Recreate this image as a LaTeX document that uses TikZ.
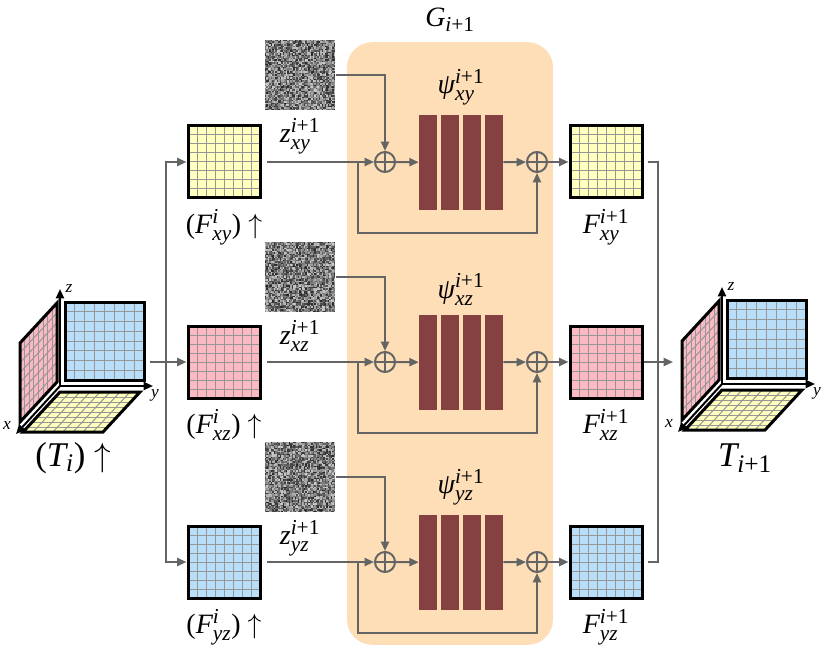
\documentclass[tikz,border=0pt]{standalone}
\usepackage{amsmath}
\usepackage{fontspec}
\setmainfont{Liberation Serif}
\usepackage{tikz}
\usetikzlibrary{positioning, calc}
\usetikzlibrary{arrows.meta}
\tikzset{>={Triangle[width=6pt,length=7pt]}}
\DeclareMathSizes{21}{21}{16}{12}
\DeclareMathSizes{26}{26}{19}{14}

\definecolor{planeyel}{RGB}{255,255,190}
\definecolor{planepink}{RGB}{250,185,195}
\definecolor{planeblue}{RGB}{185,222,250}
\definecolor{gridgray}{RGB}{150,150,150}
\definecolor{linegray}{RGB}{100,100,100}
\definecolor{peach}{RGB}{253,222,183}
\definecolor{convred}{RGB}{133,65,65}

\newcommand{\tx}[1]{\textit{#1}}
\newcommand{\ip}{\tx{i}\text{+1}}

% 8x8 grid inside a square plane node
\newcommand{\planegrid}{%
  \foreach \k in {1,...,7}{
    \draw[gridgray, line width=0.75pt] ([xshift=\k*6.75pt]path picture bounding box.south west) -- ++(0pt,54pt);
    \draw[gridgray, line width=0.75pt] ([yshift=\k*6.75pt]path picture bounding box.south west) -- ++(54pt,0pt);
  }}
% random gray pixels
\newcommand{\noisefill}{%
  \foreach \i in {0,...,46}{\foreach \j in {0,...,46}{
    \pgfmathsetmacro{\g}{int(20+65*rnd)}
    \fill[black!\g] ([xshift=\i*1.125pt, yshift=\j*1.125pt]path picture bounding box.south west) rectangle ++(1.125pt,1.125pt);
  }}}
% four conv bars
\newcommand{\convbars}{%
  \foreach \k in {0,...,3}
    \fill[convred] ([xshift=\k*16.5pt]path picture bounding box.south west) rectangle ++(13.5pt,71.25pt);}
% gridded parallelogram: corner, side u, side v, fill
\newcommand{\gridpar}[7]{%
  \fill[#7] (#1,#2) -- ++(#3,#4) -- ++(#5,#6) -- ++({-1*(#3)},{-1*(#4)}) -- cycle;
  \foreach \k in {1,...,7}{
    \draw[gridgray, line width=0.75pt] ({#1+\k/8*(#3)},{#2+\k/8*(#4)}) -- ++(#5,#6);
    \draw[gridgray, line width=0.75pt] ({#1+\k/8*(#5)},{#2+\k/8*(#6)}) -- ++(#3,#4);
  }
  \draw[black, line width=2.25pt] (#1,#2) -- ++(#3,#4) -- ++(#5,#6) -- ++({-1*(#3)},{-1*(#4)}) -- cycle;}

\tikzset{cube/.pic={
    \gridpar{-3}{-83}{0}{79}{-37}{40}{planepink}
    \gridpar{5}{-84}{79}{0}{0}{78}{planeblue}
    \gridpar{0}{6}{80}{0}{-37}{40}{planeyel}
    \draw[black, line width=1.5pt, ->] (0,0) -- (0,-97);
    \draw[black, line width=1.5pt, ->] (0,0) -- (93,0);
    \draw[black, line width=1.5pt, ->] (0,0) -- (-44,48);
    \node[font=\fontsize{13}{15}\selectfont] at (9,-97) {\tx{z}};
    \node[font=\fontsize{13}{15}\selectfont] at (95,9) {\tx{y}};
    \node[font=\fontsize{13}{15}\selectfont] at (-53,40) {\tx{x}};
    \coordinate (-out) at (90,-24);
    \coordinate (-in) at (-49,-22);
}}

\begin{document}
\begin{tikzpicture}[x=0.75pt, y=-0.75pt,
    plane/.style={rectangle, draw=black, line width=2.25pt, minimum size=54pt, inner sep=0pt, path picture={\planegrid}},
    noise/.style={rectangle, minimum size=52.875pt, inner sep=0pt, fill=gray, path picture={\noisefill}},
    adder/.style={circle, draw=linegray, line width=1.5pt, minimum size=15pt, inner sep=0pt, path picture={\draw[linegray, line width=1.5pt] (path picture bounding box.north) -- (path picture bounding box.south) (path picture bounding box.west) -- (path picture bounding box.east);}},
    block/.style={rectangle, minimum width=63pt, minimum height=71.25pt, inner sep=0pt, fill=peach, path picture={\convbars}},
    conn/.style={draw=linegray, line width=1.5pt},
    lbl/.style={font=\fontsize{21}{25}\selectfont, inner sep=0pt},
    biglbl/.style={font=\fontsize{26}{30}\selectfont, inner sep=0pt}]

    \useasboundingbox (0,0) rectangle (823,652);

    %Generator box
    \node[rectangle, fill=peach, rounded corners=19pt, minimum width=154.5pt, minimum height=452pt](G) at (450,343.5){};
    \node[lbl](lG) at (450,20){$\tx{G}_{\ip}$};

    %Tri-planes
    \pic (Ti) at (60,386) {cube};
    \pic (Tn) at (722,384) {cube};
    \node[biglbl](lTi) at (73,458){($\tx{T}_{\tx{i}}$) $\uparrow$};
    \node[biglbl](lTn) at (745,458){$\tx{T}_{\ip}$};

    %Nodes xy
    \node[plane, fill=planeyel](Fxy) at (224,162){};
    \node[lbl](lFxy)[below=7pt of Fxy]{($\tx{F}^{\tx{i}}_{\tx{xy}}$) $\uparrow$};
    \node[noise](nxy) at (300,75){};
    \node[lbl](lzxy)[below=6pt of nxy]{$\tx{z}^{\ip}_{\tx{xy}}$};
    \node[adder](axy) at (385,162){};
    \node[block](psixy) at (461,162.5){};
    \node[lbl](lpsixy)[above=7pt of psixy]{$\tx{ψ}^{\ip}_{\tx{xy}}$};
    \node[adder](bxy) at (537,162){};
    \node[plane, fill=planeyel](Gxy) at (606,162){};
    \node[lbl](lGxy)[below=7pt of Gxy]{$\tx{F}^{\ip}_{\tx{xy}}$};

    %Nodes xz
    \node[plane, fill=planepink](Fxz) at (224,362){};
    \node[lbl](lFxz)[below=7pt of Fxz]{($\tx{F}^{\tx{i}}_{\tx{xz}}$) $\uparrow$};
    \node[noise](nxz) at (300,277){};
    \node[lbl](lzxz)[below=6pt of nxz]{$\tx{z}^{\ip}_{\tx{xz}}$};
    \node[adder](axz) at (385,362){};
    \node[block](psixz) at (461,362.5){};
    \node[lbl](lpsixz)[above=7pt of psixz]{$\tx{ψ}^{\ip}_{\tx{xz}}$};
    \node[adder](bxz) at (537,362){};
    \node[plane, fill=planepink](Gxz) at (606,362){};
    \node[lbl](lGxz)[below=7pt of Gxz]{$\tx{F}^{\ip}_{\tx{xz}}$};

    %Nodes yz
    \node[plane, fill=planeblue](Fyz) at (224,562){};
    \node[lbl](lFyz)[below=7pt of Fyz]{($\tx{F}^{\tx{i}}_{\tx{yz}}$) $\uparrow$};
    \node[noise](nyz) at (300,477){};
    \node[lbl](lzyz)[below=6pt of nyz]{$\tx{z}^{\ip}_{\tx{yz}}$};
    \node[adder](ayz) at (385,562){};
    \node[block](psiyz) at (461,562.5){};
    \node[lbl](lpsiyz)[above=7pt of psiyz]{$\tx{ψ}^{\ip}_{\tx{yz}}$};
    \node[adder](byz) at (537,562){};
    \node[plane, fill=planeblue](Gyz) at (606,562){};
    \node[lbl](lGyz)[below=7pt of Gyz]{$\tx{F}^{\ip}_{\tx{yz}}$};

    \coordinate (split) at (166,362);
    \coordinate (merge) at (658,362);

    %Lines
    \draw[conn, ->] (Ti-out) -- (Fxz);
    \draw[conn, ->] (split) |- (Fxy);
    \draw[conn, ->] (split) |- (Fyz);
    \draw[conn, ->] (Gxz) -- (Tn-in);
    \draw[conn] (Gxy.east) ++(3pt,0pt) -| (merge);
    \draw[conn] (Gyz.east) ++(3pt,0pt) -| (merge);

    \draw[conn, ->, shorten <=4pt] (Fxy) -- (axy);
    \draw[conn, ->] (nxy) -| (axy);
    \draw[conn, ->] (axy) -- (psixy);
    \draw[conn, ->] (psixy) -- (bxy);
    \draw[conn, ->] (bxy) -- (Gxy);
    \draw[conn, ->] (358,162) -- ++(0,71) -| (bxy);

    \draw[conn, ->, shorten <=4pt] (Fxz) -- (axz);
    \draw[conn, ->] (nxz) -| (axz);
    \draw[conn, ->] (axz) -- (psixz);
    \draw[conn, ->] (psixz) -- (bxz);
    \draw[conn, ->] (bxz) -- (Gxz);
    \draw[conn, ->] (358,362) -- ++(0,71) -| (bxz);

    \draw[conn, ->, shorten <=4pt] (Fyz) -- (ayz);
    \draw[conn, ->] (nyz) -| (ayz);
    \draw[conn, ->] (ayz) -- (psiyz);
    \draw[conn, ->] (psiyz) -- (byz);
    \draw[conn, ->] (byz) -- (Gyz);
    \draw[conn, ->] (358,562) -- ++(0,71) -| (byz);

\end{tikzpicture}
\end{document}
